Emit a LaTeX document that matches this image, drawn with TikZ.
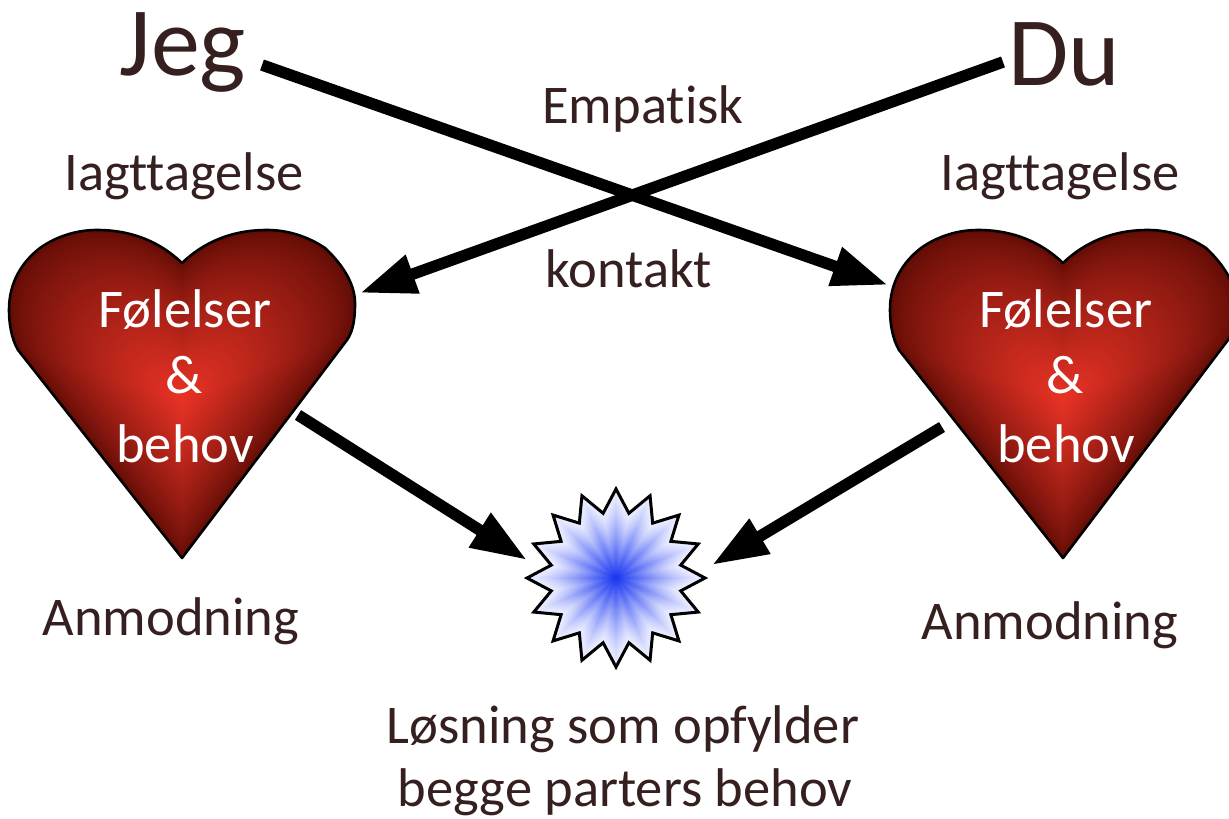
\documentclass[tikz,border=0pt]{standalone}
\usepackage{fontspec}
\setmainfont[Ligatures=CommonOff]{Carlito}
\usetikzlibrary{arrows.meta}
\definecolor{inkc}{HTML}{35201F}
\definecolor{heartout}{HTML}{640D07}
\definecolor{heartin}{HTML}{E83325}
\definecolor{starin}{HTML}{1230F0}
\definecolor{starout}{HTML}{ECEEFF}
\newcommand{\heartshape}{(0,158) -- (-164,-50) .. controls (-171,-62) and (-173,-78) .. (-173,-90) .. controls (-173,-118) and (-160,-138) .. (-142,-152) .. controls (-125,-164) and (-105,-170) .. (-85,-170) .. controls (-50,-170) and (-22,-158) .. (0,-137) .. controls (22,-158) and (50,-170) .. (85,-170) .. controls (105,-170) and (125,-164) .. (143,-152) .. controls (158,-138) and (173,-118) .. (173,-97) .. controls (173,-84) and (172,-70) .. (165,-60) -- cycle}
\newcommand{\starshape}{plot[samples at={0,...,31}] ({(mod(\x,2)==0?89:66)*sin(\x*11.25)},{-(mod(\x,2)==0?89:66)*cos(\x*11.25)}) -- cycle}
\newcommand{\drawheart}[2]{%
  \foreach \i in {0,...,44}{%
    \pgfmathsetmacro{\sc}{1-\i/44}%
    \pgfmathsetmacro{\pc}{100*(\i/44)^0.8}%
    \fill[heartin!\pc!heartout,shift={(#1,#2)},scale=\sc] \heartshape;
  }%
  \draw[line width=2.6pt,line join=round,shift={(#1,#2)}] \heartshape;
}
\tikzset{
  x=1pt,y=-1pt,
  label text/.style={anchor=base,inner sep=0pt,text=inkc,font=\fontsize{54.5}{54.5}\selectfont},
  big text/.style={anchor=base,inner sep=0pt,text=inkc,font=\fontsize{98}{98}\selectfont},
  heart text/.style={anchor=base,inner sep=0pt,text=white,font=\fontsize{54.5}{54.5}\selectfont},
  thick arrow/.style={line width=11.5pt,-{Triangle[length=56pt,width=38pt]},black}
}
\begin{document}
\begin{tikzpicture}
\useasboundingbox (0,0) rectangle (1229,819);
\drawheart{182}{400}
\drawheart{1063}{400}
\foreach \i in {0,...,36}{%
  \pgfmathsetmacro{\sc}{1-\i/36}%
  \pgfmathsetmacro{\pc}{100*(\i/36)^1.3}%
  \fill[starin!\pc!starout,shift={(616,578)},scale=\sc] \starshape;
}
\draw[line width=3pt,miter limit=10,shift={(616,578)}] \starshape;
\node[big text] (jeg) at (183,75) {Jeg};
\node[big text] (du) at (1064,85) {Du};
\node[label text] (empatisk) at (643,123) {Empatisk};
\node[label text] (kontakt) at (629,287) {kontakt};
\node[label text] (obsL) at (184,190) {Iagttagelse};
\node[label text] (obsR) at (1060,190) {Iagttagelse};
\node[heart text] (feelL) at (185,327) {Følelser};
\node[heart text] (andL) at (184,393) {\&};
\node[heart text] (needL) at (185,462) {behov};
\node[heart text] (feelR) at (1066,327) {Følelser};
\node[heart text] (andR) at (1065,393) {\&};
\node[heart text] (needR) at (1066,462) {behov};
\node[label text] (reqL) at (171,635) {Anmodning};
\node[label text] (reqR) at (1050,639) {Anmodning};
\node[label text] (sol1) at (623,743) {Løsning som opfylder};
\node[label text] (sol2) at (625,806) {begge parters behov};
\coordinate (jegOut) at (262,65);
\coordinate (duOut) at (1003,62);
\coordinate (heartLin) at (360,293);
\coordinate (heartRin) at (888,285);
\coordinate (heartLout) at (298,415);
\coordinate (heartRout) at (942,427);
\coordinate (starL) at (527,560);
\coordinate (starR) at (712,565);
\draw[thick arrow] (jegOut) -- (heartRin);
\draw[thick arrow] (duOut) -- (heartLin);
\draw[thick arrow] (heartLout) -- (starL);
\draw[thick arrow] (heartRout) -- (starR);
\end{tikzpicture}
\end{document}
